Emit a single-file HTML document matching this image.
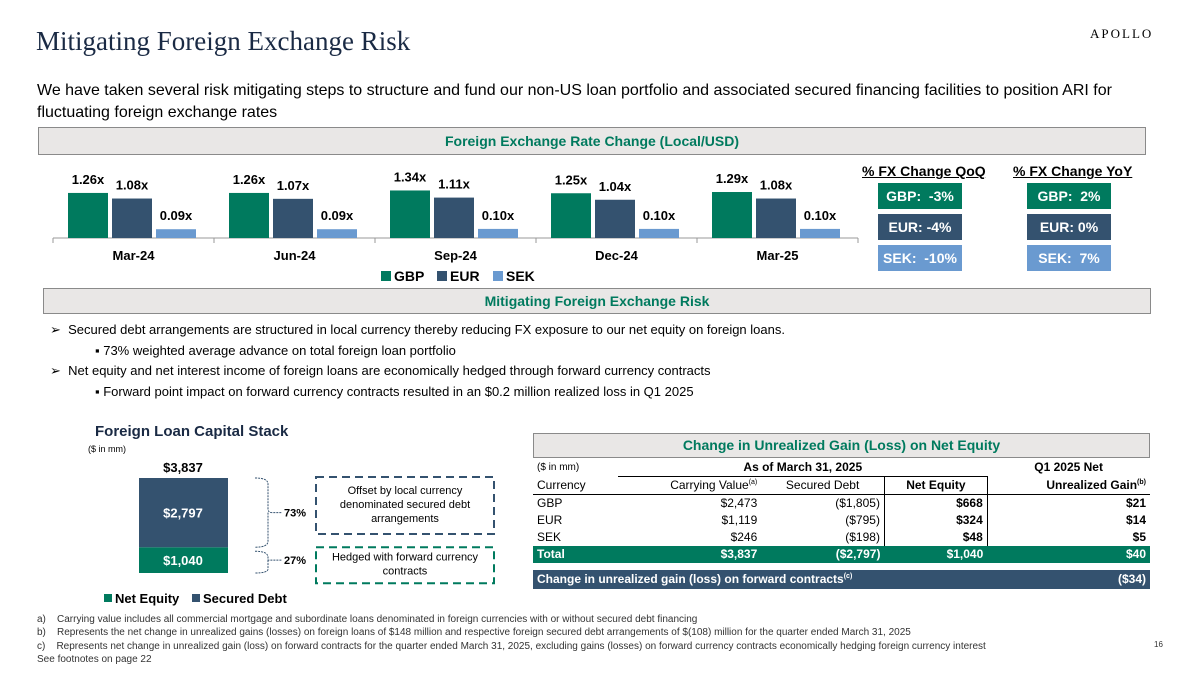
<!DOCTYPE html>
<html><head><meta charset="utf-8"><style>
body{margin:0;width:1200px;height:675px;background:#fff;font-family:"Liberation Sans",sans-serif;position:relative;overflow:hidden;color:#000}
.a{position:absolute;white-space:nowrap}
.hdr{position:absolute;background:#e9e7e6;border:1px solid #8a8a8a;color:#007a5e;font-weight:bold;font-size:14px;text-align:center;box-sizing:border-box}
.box{position:absolute;color:#fff;font-weight:bold;font-size:14px;text-align:center;line-height:26px;width:84px;height:26px}
.fn{position:absolute;font-size:10px;color:#333;white-space:nowrap}
td{padding:0 4px;height:17px;font-size:12px;line-height:17px}
sup{line-height:0}
</style></head><body>
<div class="a" style="left:36px;top:26px;font-family:'Liberation Serif',serif;font-size:27px;color:#1a2a44">Mitigating Foreign Exchange Risk</div>
<div class="a" style="left:1090px;top:26px;font-family:'Liberation Serif',serif;font-size:13px;letter-spacing:2px">APOLLO</div>
<div class="a" style="left:37px;top:80px;font-size:16px;line-height:22px;white-space:normal;width:1130px">We have taken several risk mitigating steps to structure and fund our non-US loan portfolio and associated secured financing facilities to position ARI for fluctuating foreign exchange rates</div>
<div class="hdr" style="left:38px;top:127px;width:1108px;height:28px;line-height:26px">Foreign Exchange Rate Change (Local/USD)</div>

<svg id="fx" class="a" style="left:0;top:0" width="870" height="290"></svg>

<div class="a" style="left:862px;top:163px;font-weight:bold;font-size:14px;text-decoration:underline">% FX Change QoQ</div>
<div class="a" style="left:1013px;top:163px;font-weight:bold;font-size:14px;text-decoration:underline">% FX Change YoY</div>
<div class="box" style="left:878px;top:183px;background:#007a5e">GBP:&nbsp; -3%</div>
<div class="box" style="left:878px;top:214px;background:#34526f">EUR: -4%</div>
<div class="box" style="left:878px;top:245px;background:#6a9ad0">SEK:&nbsp; -10%</div>
<div class="box" style="left:1027px;top:183px;background:#007a5e">GBP:&nbsp; 2%</div>
<div class="box" style="left:1027px;top:214px;background:#34526f">EUR: 0%</div>
<div class="box" style="left:1027px;top:245px;background:#6a9ad0">SEK:&nbsp; 7%</div>

<div class="hdr" style="left:43px;top:288px;width:1108px;height:26px;line-height:24px">Mitigating Foreign Exchange Risk</div>
<div class="a" style="left:50px;top:322px;font-size:13px">➢&nbsp; Secured debt arrangements are structured in local currency thereby reducing FX exposure to our net equity on foreign loans.</div>
<div class="a" style="left:95px;top:343px;font-size:13px">▪ 73% weighted average advance on total foreign loan portfolio</div>
<div class="a" style="left:50px;top:363px;font-size:13px">➢&nbsp; Net equity and net interest income of foreign loans are economically hedged through forward currency contracts</div>
<div class="a" style="left:95px;top:384px;font-size:13px">▪ Forward point impact on forward currency contracts resulted in an $0.2 million realized loss in Q1 2025</div>

<div class="a" style="left:95px;top:423px;font-weight:bold;font-size:15px;color:#1a2a44">Foreign Loan Capital Stack</div>
<div class="a" style="left:88px;top:444px;font-size:9px">($ in mm)</div>
<svg id="stack" class="a" style="left:0;top:455px" width="520" height="160"></svg>

<div class="hdr" style="left:533px;top:433px;width:617px;height:25px;line-height:23px">Change in Unrealized Gain (Loss) on Net Equity</div>
<table style="position:absolute;left:533px;top:459px;width:617px;border-collapse:collapse">
<tr><td style="font-size:10px">($ in mm)</td><td colspan="3" style="text-align:center;font-weight:bold">As of March 31, 2025</td><td style="text-align:center;font-weight:bold" >Q1 2025 Net</td></tr>
<tr style="border-bottom:1px solid #000"><td>Currency</td><td style="text-align:right;border-top:1px solid #000">Carrying Value<sup style="font-size:7px">(a)</sup></td><td style="text-align:center;border-top:1px solid #000">Secured Debt</td><td style="text-align:center;font-weight:bold;border:1px solid #000;border-bottom:none">Net Equity</td><td style="text-align:right;font-weight:bold">Unrealized Gain<sup style="font-size:7px">(b)</sup></td></tr>
<tr><td>GBP</td><td style="text-align:right">$2,473</td><td style="text-align:right">($1,805)</td><td style="text-align:right;font-weight:bold;border-left:1px solid #000;border-right:1px solid #000">$668</td><td style="text-align:right;font-weight:bold">$21</td></tr>
<tr><td>EUR</td><td style="text-align:right">$1,119</td><td style="text-align:right">($795)</td><td style="text-align:right;font-weight:bold;border-left:1px solid #000;border-right:1px solid #000">$324</td><td style="text-align:right;font-weight:bold">$14</td></tr>
<tr><td>SEK</td><td style="text-align:right">$246</td><td style="text-align:right">($198)</td><td style="text-align:right;font-weight:bold;border-left:1px solid #000;border-right:1px solid #000">$48</td><td style="text-align:right;font-weight:bold">$5</td></tr>
<tr style="background:#007a5e;color:#fff;font-weight:bold"><td>Total</td><td style="text-align:right">$3,837</td><td style="text-align:right">($2,797)</td><td style="text-align:right">$1,040</td><td style="text-align:right">$40</td></tr>
</table>
<div class="a" style="left:533px;top:570px;width:617px;height:19px;background:#34526f;color:#fff;font-weight:bold;font-size:12px;line-height:19px"><span style="position:absolute;left:4px;top:0">Change in unrealized gain (loss) on forward contracts<sup style="font-size:7px">(c)</sup></span><span style="position:absolute;right:4px;top:0">($34)</span></div>

<div class="fn" style="left:37px;top:614px">a)&nbsp;&nbsp;&nbsp;&nbsp;Carrying value includes all commercial mortgage and subordinate loans denominated in foreign currencies with or without secured debt financing</div>
<div class="fn" style="left:37px;top:627px">b)&nbsp;&nbsp;&nbsp;&nbsp;Represents the net change in unrealized gains (losses) on foreign loans of $148 million and respective foreign secured debt arrangements of $(108) million for the quarter ended March 31, 2025</div>
<div class="fn" style="left:37px;top:641px">c)&nbsp;&nbsp;&nbsp;&nbsp;Represents net change in unrealized gain (loss) on forward contracts for the quarter ended March 31, 2025, excluding gains (losses) on forward currency contracts economically hedging foreign currency interest</div>
<div class="fn" style="left:37px;top:654px">See footnotes on page 22</div>
<div class="fn" style="left:1154px;top:640px;font-size:8px">16</div>

<script>
const categories=["Mar-24","Jun-24","Sep-24","Dec-24","Mar-25"];
const gbp=[1.26,1.26,1.34,1.25,1.29];
const eur=[1.08,1.07,1.11,1.04,1.08];
const sek=[0.09,0.09,0.10,0.10,0.10];
const seriesNames=["GBP","EUR","SEK"];
const stackLabels=["Net Equity","Secured Debt"];
const stackValues=[1040,2797];
const stackPct=["27%","73%"];
(function(){
const NS="http://www.w3.org/2000/svg";
function mk(p,t,a){const e=document.createElementNS(NS,t);for(const k in a)e.setAttribute(k,a[k]);p.appendChild(e);return e;}
const fx=document.getElementById('fx');
const base=238,x0=53,gw=161;
const yH=v=>6+31*v;
const cols=["#007a5e","#34526f","#6a9ad0"];
const series=[gbp,eur,sek];
mk(fx,'line',{x1:x0,y1:base,x2:x0+gw*5,y2:base,stroke:'#999'});
for(let i=0;i<=5;i++)mk(fx,'line',{x1:x0+gw*i,y1:base,x2:x0+gw*i,y2:base+5,stroke:'#999'});
categories.forEach((c,i)=>{
  series.forEach((s,j)=>{
    const h=yH(s[i]),x=x0+gw*i+15+j*44;
    const r=mk(fx,'rect',{x:x,y:base-h,width:40,height:h,fill:cols[j]});
    
    
    const t=mk(fx,'text',{x:x+20,y:base-h-9,'text-anchor':'middle','font-size':13,'font-weight':'bold','font-family':'Liberation Sans'});
    t.textContent=s[i].toFixed(2)+'x';
    
    
  });
  const t=mk(fx,'text',{x:x0+gw*i+gw/2,y:260,'text-anchor':'middle','font-size':13,'font-weight':'bold','font-family':'Liberation Sans'});
  t.textContent=c;
  
  
});
seriesNames.forEach((n,j)=>{
  const lx=381+j*56;
  const r=mk(fx,'rect',{x:lx,y:271,width:10,height:10,fill:cols[j]});
  
  
  const t=mk(fx,'text',{x:lx+13,y:281,'font-size':14,'font-weight':'bold','font-family':'Liberation Sans'});
  t.textContent=n;
  
  
});

const st=document.getElementById('stack');
const sb=118,sScale=95/3837;
const hE=stackValues[0]*sScale,hD=stackValues[1]*sScale;
let r=mk(st,'rect',{x:139,y:sb-hE,width:89,height:hE,fill:'#007a5e'});

r=mk(st,'rect',{x:139,y:sb-hE-hD,width:89,height:hD,fill:'#34526f'});

function tx(x,y,s,txt,w,anc,fill){const t=mk(st,'text',{x:x,y:y,'font-size':s,'font-weight':w||'normal','text-anchor':anc||'middle',fill:fill||'#000','font-family':'Liberation Sans'});t.textContent=txt;return t;}
let t=tx(183,sb-hE/2+5,13,'$'+stackValues[0].toLocaleString('en-US'),'bold','middle','#fff');
t=tx(183,sb-hE-hD/2+5,13,'$'+stackValues[1].toLocaleString('en-US'),'bold','middle','#fff');
t=tx(183,sb-hE-hD-6,13,'$'+(stackValues[0]+stackValues[1]).toLocaleString('en-US'),'bold');
const sTop=sb-hE-hD,mid=sb-hE;
const m1=(sTop+mid)/2,m2=(mid+sb)/2;
mk(st,'path',{d:`M255 ${sTop} Q268 ${sTop} 268 ${sTop+6} L268 ${m1-4} Q268 ${m1} 272 ${m1} L282 ${m1} M268 ${m1} L268 ${mid-6} Q268 ${mid} 255 ${mid}`,fill:'none',stroke:'#34526f','stroke-dasharray':'2,1'});
mk(st,'path',{d:`M255 ${mid+4} Q268 ${mid+4} 268 ${mid+10} L268 ${m2} L282 ${m2} M268 ${m2} L268 ${sb-4} Q268 ${sb} 255 ${sb}`,fill:'none',stroke:'#34526f','stroke-dasharray':'2,1'});
t=tx(284,m1+4,11,stackPct[1],'bold','start');
t=tx(284,m2+4,11,stackPct[0],'bold','start');
r=mk(st,'rect',{x:316,y:sTop-1,width:178,height:57,fill:'none',stroke:'#34526f','stroke-width':2,'stroke-dasharray':'8,5'});

tx(405,sTop+16,11,'Offset by local currency');tx(405,sTop+30,11,'denominated secured debt');tx(405,sTop+44,11,'arrangements');
r=mk(st,'rect',{x:316,y:mid,width:178,height:36,fill:'none',stroke:'#007a5e','stroke-width':2,'stroke-dasharray':'8,5'});

tx(405,mid+13,11,'Hedged with forward currency');tx(405,mid+27,11,'contracts');
[["#007a5e",stackLabels[0],104],["#34526f",stackLabels[1],192]].forEach(a=>{
  const q=mk(st,'rect',{x:a[2],y:139,width:8,height:8,fill:a[0]});
  const l=tx(a[2]+11,148,13,a[1],'bold','start');
});
})();
</script>
</body></html>
